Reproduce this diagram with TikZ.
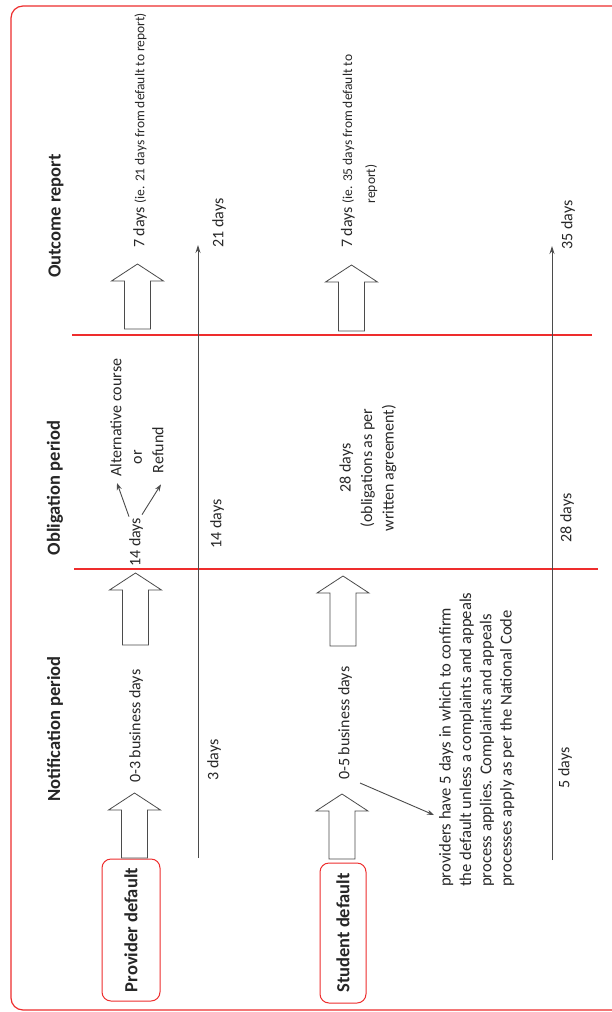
\documentclass[tikz,border=0pt]{standalone}
\usepackage{fontspec}
\setmainfont{Carlito}
\usetikzlibrary{arrows.meta}
\definecolor{framered}{RGB}{238,45,45}
\definecolor{ink}{RGB}{40,40,40}
\definecolor{lineg}{RGB}{75,75,75}
\newcommand\uparr[3]{%
  \draw[blockarrow] (#1-13,#3) -- (#1-13,#2+17) -- (#1-26,#2+17) -- (#1,#2)
    -- (#1+26,#2+17) -- (#1+13,#2+17) -- (#1+13,#3) -- cycle;}
\begin{document}
\begin{tikzpicture}[x=1pt,y=-1pt,
  lbl/.style={text=ink, font=\fontsize{16}{20}\selectfont, rotate=90, inner sep=0pt},
  headlbl/.style={lbl, text=black!85, font=\bfseries\fontsize{18.5}{22}\selectfont},
  defbox/.style={draw=framered, line width=1pt, rounded corners=9pt, rotate=90,
     text=black!85, font=\bfseries\fontsize{18.5}{22}\selectfont, inner sep=0pt},
  blockarrow/.style={draw=lineg, line width=0.8pt, fill=white},
  redline/.style={draw=framered, line width=1.2pt},
  timeline/.style={draw=lineg, line width=0.9pt, -{Stealth[length=8pt,width=5pt]}},
  smallarrow/.style={draw=lineg, line width=0.9pt, -{Stealth[length=7pt,width=5pt]}}]
\useasboundingbox (0,0) rectangle (611,1012);
\fill[white] (0,0) rectangle (611,1012);
% outer frame
\draw[framered, line width=1.2pt, rounded corners=12pt] (11,6) rectangle (660,1010);
% separator lines
\draw[redline] (72,335) -- (592,335);
\draw[redline] (74,569) -- (598,569);
% headings
\node[headlbl] (hnot) at (55,729) {Notification period};
\node[headlbl] (hobl) at (55,488) {Obligation period};
\node[headlbl] (hout) at (56,216) {Outcome report};
% default boxes
\node[defbox, minimum width=142pt, minimum height=58pt] (pd) at (131,930) {Provider default};
\node[defbox, minimum width=140pt, minimum height=46pt] (sd) at (343,933) {Student default};
% block arrows: provider
\uparr{134.5}{793}{858}
\uparr{135.5}{573}{645}
\uparr{137.5}{264}{329}
% block arrows: student
\uparr{342}{794}{859}
\uparr{343}{576}{646}
\uparr{351.5}{265}{331}
% provider labels
\node[lbl, anchor=west] (p03) at (136,783) {0-3 business days};
\node[lbl, anchor=west] (p14) at (136,567) {14 days};
\node[lbl, anchor=west] (alt) at (116,477) {Alternative course};
\node[lbl] (por) at (138,457) {or};
\node[lbl] (pref) at (158,450) {Refund};
\draw[smallarrow] ([shift={(-7,-1)}]p14.east) -- ([shift={(1,6)}]alt.west);
\draw[smallarrow] ([shift={(6,-3)}]p14.east) -- ([shift={(3,11)}]pref.west);
\node[lbl, anchor=west] (p7) at (140,248) {7 days {\fontsize{13.5}{16}\selectfont (ie. 21 days from default to report)}};
% student labels
\node[lbl, anchor=west] (s05) at (345,780) {0-5 business days};
\node[lbl, align=center, font=\fontsize{16}{21.5}\selectfont] (s28) at (368,468) {28 days\\(obligations as per\\written agreement)};
\node[lbl, anchor=base west] (s7) at (352,248) {7 days {\fontsize{13.5}{23}\selectfont\begin{tabular}[t]{@{}l@{}}(ie. 35 days from default to\\report)\end{tabular}}};
\node[lbl, anchor=north west, align=left, font=\fontsize{16.6}{20.3}\selectfont] (para) at (439,887) {providers have 5 days in which to confirm\\the default unless a complaints and appeals\\process applies. Complaints and appeals\\processes apply as per the National Code};
\draw[smallarrow] ([shift={(15,3)}]s05.west) -- ([shift={(-5,-72)}]para.north west);
% timelines
\coordinate (tl0) at (198,858);
\coordinate (tl1) at (198,245);
\coordinate (tr0) at (552,860);
\coordinate (tr1) at (552,246);
\draw[timeline] (tl0) -- (tl1);
\draw[timeline] (tr0) -- (tr1);
\node[lbl] (t3) at (214,760) {3 days};
\node[lbl] (t14) at (217,524) {14 days};
\node[lbl] (t21) at (219,223) {21 days};
\node[lbl] (t5) at (565,768) {5 days};
\node[lbl] (t28) at (567,518) {28 days};
\node[lbl] (t35) at (568,225) {35 days};
\end{tikzpicture}
\end{document}
